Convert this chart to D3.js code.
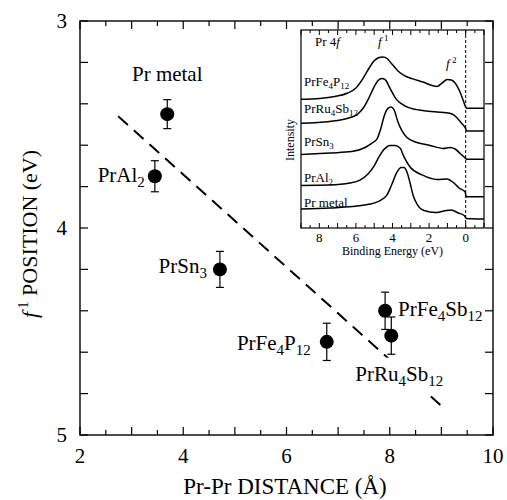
<!DOCTYPE html>
<html>
<head>
<meta charset="utf-8">
<title>Pr 4f position</title>
<script src="https://d3js.org/d3.v7.min.js"></script>
<style>
  body { margin: 0; background: #fff; }
  svg, svg text { font-family: "Liberation Serif", "DejaVu Serif", "Times New Roman", serif; }
  .axisline { stroke: #000; stroke-width: 1.4; fill: none; }
</style>
</head>
<body>
<div id="chart"></div>
<script>
// main plot data: Pr-Pr distance (A) vs f1 position (eV)
var names = ["Pr metal", "PrAl_{2}", "PrSn_{3}", "PrFe_{4}P_{12}", "PrFe_{4}Sb_{12}", "PrRu_{4}Sb_{12}"];
var distance = [3.69, 3.45, 4.71, 6.78, 7.91, 8.03];
var f1pos = [3.45, 3.75, 4.20, 4.55, 4.40, 4.52];
var errs = [0.07, 0.075, 0.087, 0.09, 0.09, 0.09];
// dashed guide line end points
var fitX = [2.74, 8.98];
var fitY = [3.46, 4.855];
var xTicks = [2, 4, 6, 8, 10];
var yTicks = [3, 4, 5];

// inset spectra (binding energy eV, intensity arb. units incl. offset)
var specNames = ["PrFe_{4}P_{12}", "PrRu_{4}Sb_{12}", "PrSn_{3}", "PrAl_{2}", "Pr metal"];
var specE = [
  [9.00, 7.97, 7.15, 6.44, 6.00, 5.67, 5.34, 5.01, 4.74, 4.52, 4.30, 4.03, 3.70, 3.32, 2.88, 2.33, 1.84, 1.56, 1.29, 1.01, 0.79, 0.58, 0.36, 0.14, -0.01, -0.05, -1.00],
  [9.00, 7.42, 6.44, 5.89, 5.56, 5.29, 5.01, 4.79, 4.58, 4.41, 4.14, 3.81, 3.48, 3.15, 2.27, 1.18, 0.74, 0.47, 0.19, -0.01, -0.05, -1.00],
  [9.00, 7.42, 6.22, 5.56, 5.12, 4.85, 4.63, 4.47, 4.25, 4.08, 3.92, 3.70, 3.48, 3.21, 2.66, 1.95, 1.23, 0.85, 0.58, 0.30, 0.03, -0.05, -1.00],
  [9.00, 7.42, 6.33, 5.78, 5.34, 5.01, 4.74, 4.47, 4.14, 3.86, 3.59, 3.37, 3.04, 2.38, 1.56, 1.01, 0.68, 0.36, 0.03, -0.03, -1.00],
  [9.00, 7.42, 5.51, 4.63, 4.30, 4.03, 3.75, 3.53, 3.37, 3.21, 3.04, 2.88, 2.66, 2.27, 1.67, 1.18, 0.79, 0.41, 0.08, -0.03, -1.00]
];
var specI = [
  [6.50, 6.54, 6.64, 6.82, 7.07, 7.47, 7.98, 8.43, 8.61, 8.64, 8.56, 8.28, 7.93, 7.68, 7.53, 7.37, 7.20, 7.15, 7.32, 7.50, 7.47, 7.32, 6.97, 6.46, 6.09, 6.05, 6.05],
  [5.29, 5.38, 5.54, 5.76, 6.11, 6.57, 7.12, 7.45, 7.55, 7.50, 7.07, 6.52, 6.26, 6.09, 5.92, 5.83, 5.76, 5.56, 5.25, 5.00, 4.90, 4.90],
  [3.71, 3.79, 3.86, 4.04, 4.29, 4.49, 5.05, 5.61, 6.04, 6.11, 5.98, 5.35, 4.90, 4.57, 4.32, 4.17, 4.02, 4.07, 3.99, 3.76, 3.54, 3.47, 3.47],
  [2.15, 2.17, 2.27, 2.42, 2.73, 3.13, 3.59, 3.96, 4.17, 4.17, 4.04, 3.59, 3.08, 2.68, 2.45, 2.47, 2.30, 2.02, 1.82, 1.58, 1.58],
  [0.96, 1.01, 1.16, 1.41, 1.67, 2.22, 2.83, 3.06, 3.06, 2.83, 2.27, 1.67, 1.21, 0.88, 0.78, 0.86, 0.91, 0.76, 0.63, 0.48, 0.45]
];
var insetXTicks = [8, 6, 4, 2, 0];

var width = 507, height = 500;
var svg = d3.select("#chart").append("svg").attr("width", width).attr("height", height)
  .attr("font-family", "'Liberation Serif', 'DejaVu Serif', serif");

// write "PrFe_{4}P_{12}" as text with subscripts
function subText(sel, str, fs, sfs, shift) {
  var parts = str.split(/_\{(\d+)\}/);
  var down = false;
  parts.forEach(function (p, i) {
    if (p === "") return;
    var sub = i % 2 === 1;
    var t = sel.append("tspan").text(p).style("font-size", (sub ? sfs : fs) + "px");
    if (sub && !down) { t.attr("dy", shift); down = true; }
    else if (!sub && down) { t.attr("dy", -shift); down = false; }
  });
}

// ---------- main plot ----------
var x = d3.scaleLinear().domain([2, 10]).range([80, 493]);
var y = d3.scaleLinear().domain([3, 5]).range([21, 435]);

var main = svg.append("g");
main.append("rect").attr("class", "axisline")
  .attr("x", x(2)).attr("y", y(3)).attr("width", x(10) - x(2)).attr("height", y(5) - y(3));

var xMinor = d3.range(2, 10.01, 0.5);
var yMinor = d3.range(3, 5.001, 0.2);
main.selectAll(".xtb").data(xMinor).join("line")
  .attr("x1", d => x(d)).attr("x2", d => x(d))
  .attr("y1", y(5)).attr("y2", d => y(5) - (d % 1 === 0 ? 8 : 5))
  .attr("stroke", "#000").attr("stroke-width", 1.2);
main.selectAll(".xtt").data(xMinor).join("line")
  .attr("x1", d => x(d)).attr("x2", d => x(d))
  .attr("y1", y(3)).attr("y2", d => y(3) + (d % 1 === 0 ? 8 : 5))
  .attr("stroke", "#000").attr("stroke-width", 1.2);
main.selectAll(".ytl").data(yMinor).join("line")
  .attr("x1", x(2)).attr("x2", x(2) + 8)
  .attr("y1", d => y(d)).attr("y2", d => y(d))
  .attr("stroke", "#000").attr("stroke-width", 1.2);
main.selectAll(".ytr").data(yMinor).join("line")
  .attr("x1", x(10)).attr("x2", x(10) - 8)
  .attr("y1", d => y(d)).attr("y2", d => y(d))
  .attr("stroke", "#000").attr("stroke-width", 1.2);

main.selectAll(".xl").data(xTicks).join("text")
  .attr("x", d => x(d)).attr("y", y(5) + 28)
  .attr("text-anchor", "middle").style("font-size", "21px").text(d => d);
main.selectAll(".yl").data(yTicks).join("text")
  .attr("x", x(2) - 13).attr("y", d => y(d) + 7)
  .attr("text-anchor", "end").style("font-size", "21px").text(d => d);

main.append("text").attr("x", 285).attr("y", 494)
  .attr("text-anchor", "middle").style("font-size", "23px").text("Pr-Pr DISTANCE (Å)");

var yl = main.append("text").attr("transform", "translate(37,234) rotate(-90)")
  .attr("text-anchor", "middle").style("font-size", "22px");
yl.append("tspan").style("font-style", "italic").text("f");
yl.append("tspan").attr("dy", -9).style("font-size", "14px").text(" 1");
yl.append("tspan").attr("dy", 9).text(" POSITION (eV)");

// dashed guide line
main.append("line")
  .attr("x1", x(fitX[0])).attr("y1", y(fitY[0]))
  .attr("x2", x(fitX[1])).attr("y2", y(fitY[1]))
  .attr("stroke", "#000").attr("stroke-width", 2).attr("stroke-dasharray", "13,8");

// point labels: offset from the point, anchor
var pts = d3.range(names.length);
var labOff = [[0, -33, "middle"], [-10, 6, "end"], [-13, 4, "end"], [-16, 8, "end"], [13, 5, "start"], [-36, 45, "start"]];
var labG = main.append("g");
pts.forEach(function (i) {
  var t = labG.append("text")
    .attr("x", x(distance[i]) + labOff[i][0]).attr("y", y(f1pos[i]) + labOff[i][1])
    .attr("text-anchor", labOff[i][2]);
  subText(t, names[i], 21, 15, 5);
  // white box under the label that sits on the dashed line
  if (i === 5) {
    var bb = t.node().getBBox();
    labG.insert("rect", "text").attr("x", bb.x - 3).attr("y", bb.y - 4)
      .attr("width", bb.width + 6).attr("height", bb.height + 8).attr("fill", "#fff");
  }
});

// error bars + points
main.selectAll(".eb").data(pts).join("line")
  .attr("x1", i => x(distance[i])).attr("x2", i => x(distance[i]))
  .attr("y1", i => y(f1pos[i] - errs[i])).attr("y2", i => y(f1pos[i] + errs[i]))
  .attr("stroke", "#000").attr("stroke-width", 1.2);
[-1, 1].forEach(function (s) {
  main.selectAll(".cap" + s).data(pts).join("line")
    .attr("x1", i => x(distance[i]) - 4).attr("x2", i => x(distance[i]) + 4)
    .attr("y1", i => y(f1pos[i] + s * errs[i])).attr("y2", i => y(f1pos[i] + s * errs[i]))
    .attr("stroke", "#000").attr("stroke-width", 1.2);
});
main.selectAll(".pt").data(pts).join("circle")
  .attr("cx", i => x(distance[i])).attr("cy", i => y(f1pos[i])).attr("r", 7).attr("fill", "#000");

// ---------- inset ----------
var ix = d3.scaleLinear().domain([9, -1]).range([301, 484]);
var iy = d3.scaleLinear().domain([0, 10]).range([228, 30]);
var ins = svg.append("g");
ins.append("rect").attr("x", ix(9)).attr("y", iy(10)).attr("width", ix(-1) - ix(9)).attr("height", iy(0) - iy(10))
  .attr("fill", "#fff").attr("stroke", "#000").attr("stroke-width", 1.2);

var iMinor = d3.range(-1, 9.01, 0.5);
ins.selectAll(".itb").data(iMinor).join("line")
  .attr("x1", d => ix(d)).attr("x2", d => ix(d))
  .attr("y1", iy(0)).attr("y2", d => iy(0) - (d % 1 === 0 ? 5 : 3))
  .attr("stroke", "#000").attr("stroke-width", 1);
ins.selectAll(".itt").data(iMinor).join("line")
  .attr("x1", d => ix(d)).attr("x2", d => ix(d))
  .attr("y1", iy(10)).attr("y2", d => iy(10) + (d % 1 === 0 ? 5 : 3))
  .attr("stroke", "#000").attr("stroke-width", 1);
ins.selectAll(".ixl").data(insetXTicks).join("text")
  .attr("x", d => ix(d)).attr("y", iy(0) + 14)
  .attr("text-anchor", "middle").style("font-size", "13px").text(d => d);
ins.append("text").attr("x", ix(4)).attr("y", 255)
  .attr("text-anchor", "middle").style("font-size", "12px").text("Binding Energy (eV)");
ins.append("text").attr("transform", "translate(294,140) rotate(-90)")
  .attr("text-anchor", "middle").style("font-size", "12px").text("Intensity");

ins.append("line").attr("x1", ix(0)).attr("x2", ix(0)).attr("y1", iy(10)).attr("y2", iy(0))
  .attr("stroke", "#000").attr("stroke-width", 1).attr("stroke-dasharray", "3,2");

var line = d3.line().x(d => ix(d[0])).y(d => iy(d[1])).curve(d3.curveMonotoneX);
specE.forEach(function (es, k) {
  var pts2 = es.map((e, j) => [e, specI[k][j]]).reverse();
  ins.append("path").attr("d", line(pts2)).attr("fill", "none")
    .attr("stroke", "#000").attr("stroke-width", 1.5);
});

var specLabY = [86, 113, 146, 182, 207];
specNames.forEach(function (n, k) {
  var t = ins.append("text").attr("x", 304).attr("y", specLabY[k]);
  subText(t, n, 13, 9, 3);
});

ins.append("text").attr("x", 315).attr("y", 46).style("font-size", "13px")
  .html('Pr 4<tspan font-style="italic">f</tspan>');
var f1 = ins.append("text").attr("x", 378).attr("y", 46).style("font-size", "13px");
f1.append("tspan").style("font-style", "italic").text("f");
f1.append("tspan").attr("dy", -5).style("font-size", "9px").text(" 1");
var f2 = ins.append("text").attr("x", 446).attr("y", 68).style("font-size", "13px");
f2.append("tspan").style("font-style", "italic").text("f");
f2.append("tspan").attr("dy", -5).style("font-size", "9px").text(" 2");
</script>
</body>
</html>
